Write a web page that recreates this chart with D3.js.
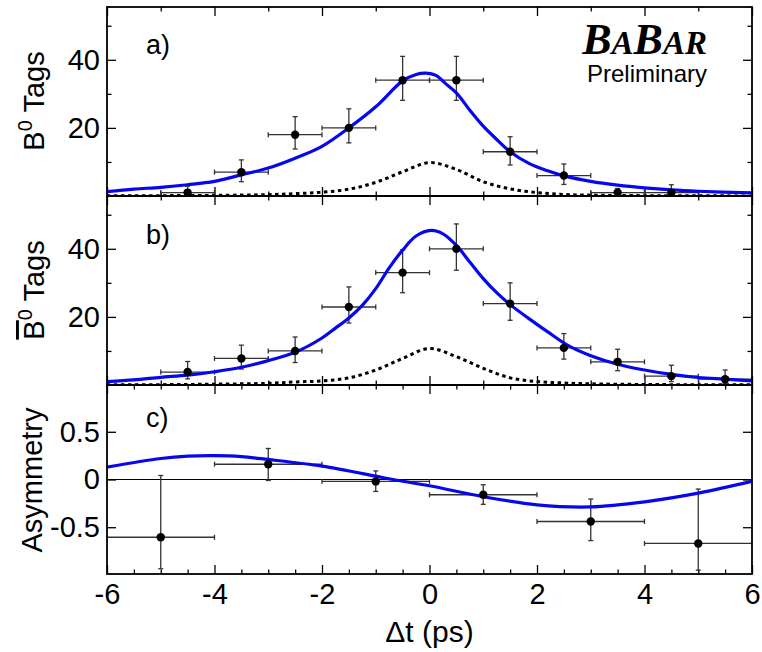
<!DOCTYPE html>
<html>
<head>
<meta charset="utf-8">
<script src="https://cdn.jsdelivr.net/npm/d3@7/dist/d3.min.js"></script>
<style>
  body { margin: 0; background: #fff; }
  text { font-family: "Liberation Sans", Arial, sans-serif; fill: #000; }
</style>
</head>
<body>
<div id="chart"></div>
<script>
// ---- data ----
// panel a) B0 tags
const binsA = [-4.5, -3.5, -2.5, -1.5, -0.5, 0.5, 1.5, 2.5, 3.5, 4.5];
const countsA = [1, 7, 18, 20, 34, 34, 13, 6, 1, 1];
const errUpA = [1.9, 3.6, 5.3, 5.6, 7.0, 7.0, 4.4, 3.4, 1.2, 2.3];
const errDnA = [0.8, 2.8, 4.2, 4.4, 5.9, 5.9, 3.9, 2.6, 0.8, 0.8];
const fitTA = [-6, -5.5, -5, -4.5, -4, -3.5, -3, -2.5, -2, -1.5, -1, -0.5, -0.25, -0.06, 0.12, 0.3, 0.5, 0.75, 1, 1.25, 1.5, 1.85, 2.2, 2.5, 3, 3.5, 4, 4.5, 5, 6];
const fitA = [1.27, 2.0, 2.55, 3.3, 4.3, 6.2, 8.2, 11.1, 14.6, 20.0, 26.2, 33.8, 35.7, 36.1, 35.4, 33.0, 30.3, 25.2, 20.5, 16.6, 13.0, 9.6, 7.4, 5.9, 4.3, 3.2, 2.4, 1.8, 1.4, 0.9];
const bkgT = [-6, -5, -4, -3, -2.5, -2, -1.5, -1, -0.5, 0, 0.5, 1, 1.5, 2, 2.5, 3, 4, 5, 6];
const bkgA = [0.05, 0.1, 0.2, 0.4, 0.7, 1.1, 2.0, 4.0, 7.1, 9.8, 7.8, 4.2, 2.1, 1.0, 0.45, 0.25, 0.1, 0.05, 0.03];

// panel b) B0bar tags
const binsB = [-4.5, -3.5, -2.5, -1.5, -0.5, 0.5, 1.5, 2.5, 3.5, 4.5, 5.5];
const countsB = [3.8, 7.8, 10, 22.9, 33, 40, 23.9, 10.9, 6.8, 2.6, 1.7];
const errUpB = [3.1, 3.9, 4.1, 5.9, 6.7, 7.3, 6.1, 4.2, 3.7, 3.2, 2.7];
const errDnB = [2.0, 3.1, 3.4, 4.7, 5.9, 6.3, 4.9, 3.3, 2.6, 1.6, 1.2];
const fitTB = [-6, -5.5, -5, -4.5, -4, -3.5, -3, -2.5, -2, -1.75, -1.5, -1.25, -1, -0.75, -0.5, -0.25, 0.03, 0.25, 0.5, 0.75, 1, 1.25, 1.5, 1.85, 2.2, 2.6, 3, 3.5, 4, 4.5, 5, 5.5, 6];
const fitB = [1.0, 1.5, 2.25, 2.9, 3.9, 5.2, 7.15, 9.6, 13.8, 16.7, 19.7, 23.4, 28.3, 34.4, 39.6, 43.75, 45.4, 44.4, 41.0, 36.1, 31.25, 27.1, 23.6, 19.5, 15.6, 11.4, 8.6, 6.1, 4.4, 3.1, 2.2, 1.7, 1.2];
const bkgB = [0.05, 0.1, 0.25, 0.5, 0.9, 1.2, 2.1, 4.4, 7.8, 10.7, 8.3, 4.9, 2.1, 1.0, 0.6, 0.35, 0.15, 0.08, 0.05];

// panel c) asymmetry
const binsC = [-5, -3, -1, 1, 3, 5];
const asymC = [-0.605, 0.16, -0.02, -0.16, -0.44, -0.67];
const errUpC = [0.647, 0.165, 0.11, 0.105, 0.235, 0.57];
const errDnC = [0.33, 0.17, 0.105, 0.1, 0.2, 0.28];
const fitTC = [-6, -5, -4.5, -4, -3.5, -3, -2, -1, -0.68, 0, 1, 2, 3, 4, 5, 6];
const fitC = [0.13, 0.22, 0.245, 0.25, 0.24, 0.21, 0.14, 0.035, 0, -0.066, -0.18, -0.265, -0.287, -0.234, -0.143, -0.02];

const xTicksMajor = [-6, -4, -2, 0, 2, 4, 6];
const xTicksMinorAB = [-5, -3, -1, 1, 3, 5];
const xTicksMinorC = d3.range(-5.5, 6, 0.5).filter((d) => d % 2 !== 0);
const yTicksAB = [20, 40];
const yTicksMinorAB = [10, 30, 50];
const yTicksC = [-0.5, 0, 0.5];

// ---- layout ----
const svgWidth = 762;
const svgHeight = 652;
const left = 107;
const right = 752;

const svg = d3
  .select("#chart")
  .append("svg")
  .attr("width", svgWidth)
  .attr("height", svgHeight);

const xScale = d3.scaleLinear().domain([-6, 6]).range([left, right]);

const zip = (ts, vs) => ts.map((t, i) => [t, vs[i]]);

const drawPanel = function (p) {
  const yScale = d3.scaleLinear().domain(p.yDomain).range([p.bottom, p.top]);
  const g = svg.append("g");

  const clipId = "clip-" + p.name;
  svg
    .append("clipPath")
    .attr("id", clipId)
    .append("rect")
    .attr("x", left)
    .attr("y", p.top)
    .attr("width", right - left)
    .attr("height", p.bottom - p.top);

  // ticks on all four sides, pointing inward
  [
    [d3.axisBottom(xScale), p.bottom, xTicksMajor, 9],
    [d3.axisBottom(xScale), p.bottom, p.xMinor, 4.5],
    [d3.axisTop(xScale), p.top, xTicksMajor, 9],
    [d3.axisTop(xScale), p.top, p.xMinor, 4.5],
  ].forEach(([axis, y0, vals, len]) => {
    g.append("g")
      .attr("transform", `translate(0,${y0})`)
      .call(axis.tickValues(vals).tickSize(-len).tickFormat(""))
      .call((s) => s.select(".domain").remove());
  });
  [
    [d3.axisLeft(yScale), left, p.yTicks, 9],
    [d3.axisLeft(yScale), left, p.yMinor, 4.5],
    [d3.axisRight(yScale), right, p.yTicks, 9],
    [d3.axisRight(yScale), right, p.yMinor, 4.5],
  ].forEach(([axis, x0, vals, len]) => {
    g.append("g")
      .attr("transform", `translate(${x0},0)`)
      .call(axis.tickValues(vals).tickSize(-len).tickFormat(""))
      .call((s) => s.select(".domain").remove());
  });
  g.selectAll(".tick line").attr("stroke", "#000").attr("stroke-width", 1.3);

  // y tick labels
  g.append("g")
    .attr("transform", `translate(${left},0)`)
    .call(
      d3
        .axisLeft(yScale)
        .tickValues(p.yTicks)
        .tickSize(0)
        .tickPadding(7)
        .tickFormat((d) => String(d))
    )
    .call((s) => s.select(".domain").remove())
    .selectAll("text")
    .attr("font-size", 29)
    .attr("font-family", "Liberation Sans, Arial, sans-serif");

  if (p.zeroLine) {
    g.append("line")
      .attr("x1", left)
      .attr("x2", right)
      .attr("y1", yScale(0))
      .attr("y2", yScale(0))
      .attr("stroke", "#000")
      .attr("stroke-width", 1);
  }

  const plot = g.append("g").attr("clip-path", `url(#${clipId})`);
  const curve = d3.curveCatmullRom.alpha(0.5);

  // background (dotted) curve
  if (p.bkg) {
    plot
      .append("path")
      .datum(zip(bkgT, p.bkg))
      .attr("fill", "none")
      .attr("stroke", "#000")
      .attr("stroke-width", 3)
      .attr("stroke-dasharray", "3.5,3.5")
      .attr(
        "d",
        d3
          .line()
          .x((d) => xScale(d[0]))
          .y((d) => yScale(d[1]))
          .curve(curve)
      );
  }

  // error bars
  const bars = plot
    .append("g")
    .attr("stroke", "#333")
    .attr("stroke-width", 1.3)
    .selectAll("g")
    .data(p.bins.map((t, i) => ({ t, v: p.vals[i], up: p.up[i], dn: p.dn[i] })))
    .enter()
    .append("g");
  const cap = 2.5;
  bars
    .append("line")
    .attr("x1", (d) => xScale(d.t - p.halfWidth))
    .attr("x2", (d) => xScale(d.t + p.halfWidth))
    .attr("y1", (d) => yScale(d.v))
    .attr("y2", (d) => yScale(d.v));
  bars
    .append("line")
    .attr("x1", (d) => xScale(d.t))
    .attr("x2", (d) => xScale(d.t))
    .attr("y1", (d) => yScale(d.v - d.dn))
    .attr("y2", (d) => yScale(d.v + d.up));
  [(d) => d.t - p.halfWidth, (d) => d.t + p.halfWidth].forEach((fx) => {
    bars
      .append("line")
      .attr("x1", (d) => xScale(fx(d)))
      .attr("x2", (d) => xScale(fx(d)))
      .attr("y1", (d) => yScale(d.v) - cap)
      .attr("y2", (d) => yScale(d.v) + cap);
  });
  [(d) => d.v - d.dn, (d) => d.v + d.up].forEach((fy) => {
    bars
      .append("line")
      .attr("x1", (d) => xScale(d.t) - cap)
      .attr("x2", (d) => xScale(d.t) + cap)
      .attr("y1", (d) => yScale(fy(d)))
      .attr("y2", (d) => yScale(fy(d)));
  });

  // fit curve
  plot
    .append("path")
    .datum(zip(p.fitT, p.fit))
    .attr("fill", "none")
    .attr("stroke", "#0707ee")
    .attr("stroke-width", 3.2)
    .attr(
      "d",
      d3
        .line()
        .x((d) => xScale(d[0]))
        .y((d) => yScale(d[1]))
        .curve(curve)
    );

  // points
  plot
    .append("g")
    .selectAll("circle")
    .data(p.bins.map((t, i) => [t, p.vals[i]]))
    .enter()
    .append("circle")
    .attr("cx", (d) => xScale(d[0]))
    .attr("cy", (d) => yScale(d[1]))
    .attr("r", 4.2)
    .attr("fill", "#000");

  // frame
  g.append("rect")
    .attr("x", left)
    .attr("y", p.top)
    .attr("width", right - left)
    .attr("height", p.bottom - p.top)
    .attr("fill", "none")
    .attr("stroke", "#000")
    .attr("stroke-width", 1.8);

  // panel letter
  g.append("text")
    .attr("x", 146)
    .attr("y", p.letterY)
    .attr("font-size", 27)
    .text(p.letter);

  return yScale;
};

drawPanel({
  name: "a", top: 7, bottom: 196, yDomain: [0, 55.5],
  yTicks: yTicksAB, yMinor: yTicksMinorAB, xMinor: xTicksMinorAB,
  bins: binsA, vals: countsA, up: errUpA, dn: errDnA, halfWidth: 0.5,
  fitT: fitTA, fit: fitA, bkg: bkgA, letter: "a)", letterY: 54,
});
drawPanel({
  name: "b", top: 196, bottom: 385, yDomain: [0, 55.5],
  yTicks: yTicksAB, yMinor: yTicksMinorAB, xMinor: xTicksMinorAB,
  bins: binsB, vals: countsB, up: errUpB, dn: errDnB, halfWidth: 0.5,
  fitT: fitTB, fit: fitB, bkg: bkgB, letter: "b)", letterY: 244,
});
drawPanel({
  name: "c", top: 385, bottom: 574, yDomain: [-0.99, 0.99],
  yTicks: yTicksC, yMinor: [], xMinor: xTicksMinorC, zeroLine: true,
  bins: binsC, vals: asymC, up: errUpC, dn: errDnC, halfWidth: 1,
  fitT: fitTC, fit: fitC, letter: "c)", letterY: 427,
});

// x tick labels, bottom panel only
svg
  .append("g")
  .attr("transform", "translate(0,574)")
  .call(
    d3
      .axisBottom(xScale)
      .tickValues(xTicksMajor)
      .tickSize(0)
      .tickPadding(9)
      .tickFormat((d) => String(d))
  )
  .call((s) => s.select(".domain").remove())
  .selectAll("text")
  .attr("font-size", 29)
  .attr("font-family", "Liberation Sans, Arial, sans-serif");

// axis titles
svg
  .append("text")
  .attr("x", (left + right) / 2)
  .attr("y", 642)
  .attr("text-anchor", "middle")
  .attr("font-size", 30)
  .text("\u0394t (ps)");

const yTitle = (cx, cy) =>
  svg
    .append("text")
    .attr("transform", `translate(${cx},${cy}) rotate(-90)`)
    .attr("text-anchor", "middle")
    .attr("font-size", 29);

const ta = yTitle(44, 101);
ta.append("tspan").text("B");
ta.append("tspan").attr("dy", -12).attr("font-size", 20).text("0");
ta.append("tspan").attr("dy", 12).text(" Tags");

const tb = yTitle(44, 290);
tb.append("tspan").style("text-decoration", "overline").text("B");
tb.append("tspan").attr("dy", -12).attr("font-size", 20).text("0");
tb.append("tspan").attr("dy", 12).text(" Tags");

yTitle(42, 480).text("Asymmetry");

// experiment tag
const logo = svg
  .append("text")
  .attr("x", 707)
  .attr("y", 54)
  .attr("text-anchor", "end")
  .attr("font-weight", "bold")
  .attr("font-style", "italic")
  .style("font-family", "Liberation Serif, 'Times New Roman', serif");
[["B", 44], ["A", 33], ["B", 44], ["AR", 33]].forEach(([s, fs]) => {
  logo.append("tspan").attr("font-size", fs).text(s);
});

svg
  .append("text")
  .attr("x", 707)
  .attr("y", 82)
  .attr("text-anchor", "end")
  .attr("font-size", 24)
  .text("Preliminary");
</script>
</body>
</html>
